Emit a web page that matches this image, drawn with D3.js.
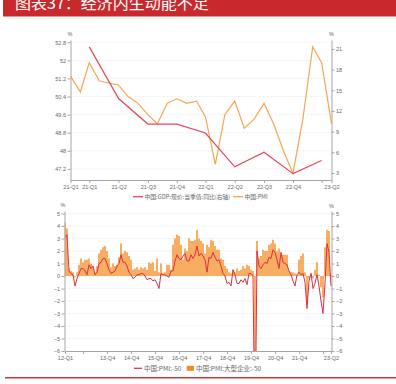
<!DOCTYPE html>
<html>
<head>
<meta charset="utf-8">
<script src="https://cdn.jsdelivr.net/npm/d3@7"></script>
<style>
body { margin: 0; background: #fff; }
svg text { font-family: "Liberation Sans", "Noto Sans CJK SC", sans-serif; }
</style>
</head>
<body>
<div id="chart"></div>
<script>
// ---------------- data ----------------
var titleText = "图表37：经济内生动能不足";

// top panel: China PMI (left axis), monthly 2021-01 .. 2023-04
var pmiTop = [51.3, 50.6, 51.9, 51.1, 51.0, 50.9, 50.4, 50.1, 49.6, 49.2, 50.1, 50.3,
              50.1, 50.2, 49.5, 47.4, 49.6, 50.2, 49.0, 49.4, 50.1, 49.2, 48.0, 47.0,
              49.4, 52.6, 51.9, 49.2];
// nominal GDP, quarterly yoy (right axis)
var gdpQuarters = ["2021-03", "2021-06", "2021-09", "2021-12", "2022-03", "2022-06", "2022-09", "2022-12", "2023-03"];
var gdpYoy = [21.3, 13.8, 10.1, 10.1, 8.8, 3.9, 6.0, 2.9, 4.8];
var topTicks = ["2021-01", "2021-03", "2021-06", "2021-09", "2021-12", "2022-03", "2022-06", "2022-09", "2022-12", "2023-03", "2023-04"];
var topTickLabels = ["21-Q1", "21-Q1", "21-Q2", "21-Q3", "21-Q4", "22-Q1", "22-Q2", "22-Q3", "22-Q4", "", "23-Q2"];
var topLeftTicks = [47.2, 48, 48.8, 49.6, 50.4, 51.2, 52, 52.8];
var topRightTicks = [3, 6, 9, 12, 15, 18, 21];

// bottom panel: PMI-50 (line) and large-enterprise PMI-50 (bars), monthly 2012-03 .. 2023-04
var pmiGap = [
  3.1, 3.3, 0.4, 0.2, 0.1, -0.8, -0.2, 0.2, 0.6, 0.6,
  0.4, 0.1, 0.9, 0.6, 0.8, 0.1, 0.3, 1.0, 1.1, 1.4, 1.4, 1.0,
  0.5, 0.2, 0.3, 0.4, 0.8, 1.0, 1.7, 1.1, 1.1, 0.8, 0.3, 0.1,
  -0.2, -0.1, 0.1, 0.1, 0.2, 0.2, 0.0, -0.3, -0.2, -0.2, -0.4, -0.3,
  -0.6, -1.0, 0.2, 0.1, 0.1, 0.0, -0.1, 0.4, 0.4, 1.2, 1.7, 1.4,
  1.3, 1.6, 1.8, 1.2, 1.2, 1.7, 1.4, 1.7, 2.4, 1.6, 1.8, 1.6,
  1.3, 0.3, 1.5, 1.4, 1.9, 1.5, 1.2, 1.3, 0.8, 0.2, 0.0, -0.6,
  -0.5, -0.8, 0.5, 0.1, -0.6, -0.6, -0.3, -0.5, -0.2, -0.7, 0.2, 0.2,
  0.0, -14.3, 2.0, 0.8, 0.6, 0.9, 1.1, 1.0, 1.5, 1.4, 2.1, 1.9,
  1.3, 0.6, 1.9, 1.1, 1.0, 0.9, 0.4, 0.1, -0.4, -0.8, 0.1, 0.3,
  0.1, 0.2, -0.5, -2.6, -0.4, 0.2, -1.0, -0.6, 0.1, -0.8, -2.0, -3.0,
  -0.6, 2.6, 1.9, -0.8];
var largeGap = [
  4.3, 3.8, 0.6, 0.4, 0.3, -0.1, 0.3, 0.9, 1.4, 1.1,
  1.3, 1.3, 1.4, 1.0, 0.7, 0.3, 0.8, 1.8, 2.1, 2.3, 2.4, 2.0,
  1.4, 0.7, 1.0, 0.8, 0.9, 1.5, 2.6, 1.8, 2.0, 1.9, 1.6, 1.3,
  0.5, 0.6, 0.7, 0.5, 0.7, 0.6, 0.7, 0.5, 1.1, 1.0, 1.1, 0.4,
  1.4, 0.3, 1.0, 0.2, 0.3, 0.9, 0.9, 0.5, 2.5, 3.0, 3.3, 3.2,
  2.5, 1.3, 2.2, 2.0, 3.0, 2.8, 2.8, 2.9, 3.7, 3.0, 2.8, 2.6,
  1.8, 2.5, 2.3, 2.9, 2.8, 2.4, 2.1, 2.1, 1.4, 1.3, 0.8, 0.6,
  0.3, 0.2, 0.5, 0.3, 0.6, 0.4, 0.5, 0.8, 0.6, 0.9, 0.8, 0.5,
  0.4, -13.7, 2.8, 1.4, 1.6, 2.1, 2.0, 2.0, 2.5, 2.6, 2.9, 2.6,
  2.0, 2.2, 1.7, 1.7, 1.7, 1.7, 0.4, 0.3, 0.3, 0.2, 0.1, 1.3,
  1.6, 1.8, 0.3, -1.9, -0.2, 0.2, -0.2, 0.5, 1.1, 0.1, -0.9, -1.7,
  2.3, 3.7, 3.6, 0.1];
var botTicks = ["2012-03", "2012-12", "2013-12", "2014-12", "2015-12", "2016-12", "2017-12", "2018-12", "2019-12", "2020-12", "2021-12", "2022-12", "2023-04"];
var botTickLabels = ["12-Q1", "", "13-Q4", "14-Q4", "15-Q4", "16-Q4", "17-Q4", "18-Q4", "19-Q4", "20-Q4", "21-Q4", "", "23-Q2"];
var botYTicks = [-6, -5, -4, -3, -2, -1, 0, 1, 2, 3, 4, 5];

var legendTop = ["中国:GDP:现价:当季值:同比(右轴)", "中国:PMI"];
var legendBot = ["中国:PMI:-50", "中国:PMI:大型企业:-50"];

// ---------------- setup ----------------
var W = 396, H = 384;
var parseM = d3.timeParse("%Y-%m");
var RED = "#e2465a", ORANGE = "#f6a550", BAR = "#f59a3c", AXIS = "#a6a6a6", TXT = "#666", GRID = "#e2e2e2";

var svg = d3.select("#chart").append("svg")
    .attr("width", W).attr("height", H);

// title bar
svg.append("rect").attr("x", 3).attr("y", 0).attr("width", W - 3).attr("height", 16.5).attr("fill", "#c9292c");
svg.append("text").attr("x", 15).attr("y", 9)
    .style("font-family", "'Noto Sans CJK SC'")
    .attr("font-size", 16).attr("fill", "#fff").text(titleText);

// bottom red rule
svg.append("line").attr("x1", 5).attr("x2", W).attr("y1", 377.7).attr("y2", 377.7)
    .attr("stroke", "#d2383b").attr("stroke-width", 1.4);

function styleAxis(g) {
    g.select(".domain").attr("stroke", AXIS);
    g.selectAll(".tick line").attr("stroke", AXIS);
    g.selectAll(".tick text").attr("fill", TXT).attr("font-size", 5.5);
}

// ---------------- top panel ----------------
var topMonths = d3.timeMonth.range(parseM("2021-01"), d3.timeMonth.offset(parseM("2023-04"), 1));
var xT = d3.scaleTime().domain([parseM("2021-01"), parseM("2023-04")]).range([70.5, 331.5]);
var yL = d3.scaleLinear().domain([46.71, 52.9]).range([180, 40]);
var yR = d3.scaleLinear().domain([1.98, 22.3]).range([180, 40]);

var gTop = svg.append("g");
gTop.selectAll("line.grid").data(topLeftTicks).enter().append("line")
    .attr("class", "grid")
    .attr("x1", 70.5).attr("x2", 331.5)
    .attr("y1", function(d){ return yL(d); }).attr("y2", function(d){ return yL(d); })
    .attr("stroke", GRID).attr("stroke-dasharray", "2,2").attr("stroke-width", 0.7);

gTop.append("g").attr("transform", "translate(70.5,0)")
    .call(d3.axisLeft(yL).tickValues(topLeftTicks).tickSize(3).tickPadding(1.5).tickSizeOuter(0)
        .tickFormat(function(d){ return String(d); }))
    .call(styleAxis);
gTop.append("g").attr("transform", "translate(331.5,0)")
    .call(d3.axisRight(yR).tickValues(topRightTicks).tickSize(3).tickPadding(1.5).tickSizeOuter(0))
    .call(styleAxis);
gTop.append("g").attr("transform", "translate(0,180)")
    .call(d3.axisBottom(xT).tickValues(topTicks.map(parseM)).tickSize(3).tickPadding(2).tickSizeOuter(0)
        .tickFormat(function(d, i){ return topTickLabels[i]; }))
    .call(styleAxis);

gTop.append("text").attr("x", 70).attr("y", 36).attr("text-anchor", "middle")
    .attr("font-size", 5.5).attr("fill", TXT).text("%");
gTop.append("text").attr("x", 331.5).attr("y", 36).attr("text-anchor", "middle")
    .attr("font-size", 5.5).attr("fill", TXT).text("%");

var pmiLine = d3.line()
    .x(function(d, i){ return xT(topMonths[i]); })
    .y(function(d){ return yL(d); });
gTop.append("path").datum(pmiTop).attr("d", pmiLine)
    .attr("fill", "none").attr("stroke", ORANGE).attr("stroke-width", 1.2);

var gdpLine = d3.line()
    .x(function(d, i){ return xT(parseM(gdpQuarters[i])); })
    .y(function(d){ return yR(d); });
gTop.append("path").datum(gdpYoy).attr("d", gdpLine)
    .attr("fill", "none").attr("stroke", RED).attr("stroke-width", 1.2);

// top legend
var lgT = gTop.append("g").attr("transform", "translate(0,196.7)");
lgT.append("line").attr("x1", 133).attr("x2", 143).attr("stroke", RED).attr("stroke-width", 1.3);
lgT.append("text").attr("x", 144.5).attr("dy", "0.35em").attr("font-size", 5.8).attr("fill", TXT)
    .style("font-family", "'Noto Sans CJK SC'").text(legendTop[0]);
lgT.append("line").attr("x1", 233).attr("x2", 243).attr("stroke", ORANGE).attr("stroke-width", 1.3);
lgT.append("text").attr("x", 244.5).attr("dy", "0.35em").attr("font-size", 5.8).attr("fill", TXT)
    .style("font-family", "'Noto Sans CJK SC'").text(legendTop[1]);

// ---------------- bottom panel ----------------
var botMonths = d3.timeMonth.range(parseM("2012-03"), d3.timeMonth.offset(parseM("2023-04"), 1));
var xB = d3.scaleLinear().domain([0, botMonths.length - 1]).range([65, 331]);
var xBt = d3.scaleTime().domain([parseM("2012-03"), parseM("2023-04")]).range([65, 331]);
var yB = d3.scaleLinear().domain([-6, 5.2]).range([351, 211]);

var gBot = svg.append("g");
svg.append("clipPath").attr("id", "clipB").append("rect")
    .attr("x", 64.5).attr("y", 205).attr("width", 267.5).attr("height", 146);

gBot.selectAll("line.grid").data(botYTicks.slice(1)).enter().append("line")
    .attr("class", "grid")
    .attr("x1", 64.5).attr("x2", 331.5)
    .attr("y1", function(d){ return yB(d); }).attr("y2", function(d){ return yB(d); })
    .attr("stroke", GRID).attr("stroke-dasharray", "2,2").attr("stroke-width", 0.7);

var plotB = gBot.append("g").attr("clip-path", "url(#clipB)");
plotB.selectAll("rect.bar").data(largeGap).enter().append("rect")
    .attr("class", "bar")
    .attr("x", function(d, i){ return xB(i) - 0.8; })
    .attr("width", 1.6)
    .attr("y", function(d){ return yB(Math.max(0, d)); })
    .attr("height", function(d){ return Math.abs(yB(d) - yB(0)); })
    .attr("fill", BAR);

plotB.append("path").datum(pmiGap)
    .attr("d", d3.line().x(function(d, i){ return xB(i); }).y(function(d){ return yB(d); }))
    .attr("fill", "none").attr("stroke", "#dc2f42").attr("stroke-width", 1);

gBot.append("g").attr("transform", "translate(64.5,0)")
    .call(d3.axisLeft(yB).tickValues(botYTicks).tickSize(3).tickPadding(1.5).tickSizeOuter(0))
    .call(styleAxis);
gBot.append("g").attr("transform", "translate(331.5,0)")
    .call(d3.axisRight(yB).tickValues(botYTicks).tickSize(3).tickPadding(1.5).tickSizeOuter(0))
    .call(styleAxis);
gBot.append("g").attr("transform", "translate(0,351)")
    .call(d3.axisBottom(xBt).tickValues(botTicks.map(parseM)).tickSize(3).tickPadding(2).tickSizeOuter(0)
        .tickFormat(function(d, i){ return botTickLabels[i]; }))
    .call(styleAxis);

gBot.append("text").attr("x", 63).attr("y", 206.5).attr("text-anchor", "middle")
    .attr("font-size", 5.5).attr("fill", TXT).text("%");
gBot.append("text").attr("x", 331.5).attr("y", 207.5).attr("text-anchor", "middle")
    .attr("font-size", 5.5).attr("fill", TXT).text("%");

// bottom legend
var lgB = gBot.append("g").attr("transform", "translate(0,368.3)");
lgB.append("line").attr("x1", 134).attr("x2", 142).attr("stroke", "#e0344a").attr("stroke-width", 1.3);
lgB.append("text").attr("x", 144).attr("dy", "0.35em").attr("font-size", 6.5).attr("fill", TXT)
    .style("font-family", "'Noto Sans CJK SC'").text(legendBot[0]);
lgB.append("rect").attr("x", 186.7).attr("y", -2.5).attr("width", 7.3).attr("height", 5).attr("fill", "#f28c22");
lgB.append("text").attr("x", 196).attr("dy", "0.35em").attr("font-size", 6.5).attr("fill", TXT)
    .style("font-family", "'Noto Sans CJK SC'").text(legendBot[1]);
</script>
</body>
</html>
